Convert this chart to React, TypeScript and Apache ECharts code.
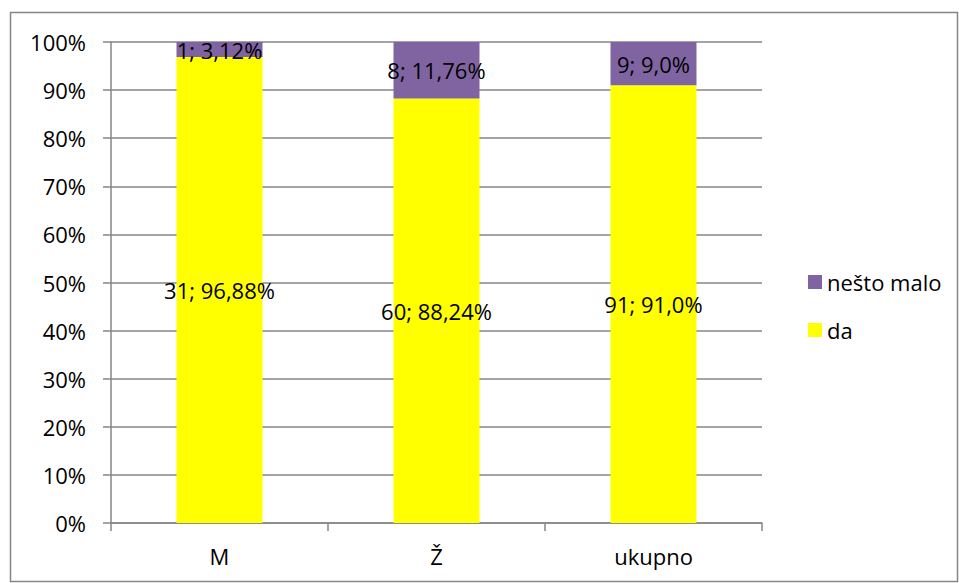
import React, { useEffect, useRef } from "react";
import * as echarts from "echarts";

const categories = ["M", "Ž", "ukupno"];
const daCounts = [31, 60, 91];
const daPercents = [96.88, 88.24, 91.0];
const daPercentLabels = ["96,88%", "88,24%", "91,0%"];
const maloCounts = [1, 8, 9];
const maloPercents = [3.12, 11.76, 9.0];
const maloPercentLabels = ["3,12%", "11,76%", "9,0%"];
const yTicks = [0, 10, 20, 30, 40, 50, 60, 70, 80, 90, 100];

const FONT = "Open Sans";
const FS = 22;

export default function App() {
  const ref = useRef<HTMLDivElement>(null);
  useEffect(() => {
    document.body.style.margin = "0";
    const chart = echarts.init(ref.current!, null, { renderer: "svg" });
    const labelStyle = {
      show: true,
      position: "inside",
      color: "#000",
      fontFamily: FONT,
      fontSize: FS,
    };
    chart.setOption({
      animation: false,
      backgroundColor: "#fff",
      textStyle: { fontFamily: FONT },
      graphic: [
        {
          type: "rect",
          shape: { x: 10.5, y: 12.5, width: 947, height: 569 },
          style: { fill: "none", stroke: "#868686", lineWidth: 1.5 },
          silent: true,
        },
      ],
      grid: { left: 111, top: 42, width: 651, height: 481, containLabel: false },
      legend: {
        orient: "vertical",
        left: 803,
        top: 265,
        itemWidth: 14,
        itemHeight: 14,
        itemGap: 24,
        icon: "rect",
        textStyle: { fontFamily: FONT, fontSize: FS, color: "#000", lineHeight: 24, padding: [0, 0, 0, 0] },
        data: ["nešto malo", "da"],
      },
      xAxis: {
        type: "category",
        data: categories,
        axisLine: { lineStyle: { color: "#868686", width: 1.5 } },
        axisTick: { show: true, length: 8, alignWithLabel: false, lineStyle: { color: "#868686", width: 1.5 } },
        axisLabel: { color: "#000", fontFamily: FONT, fontSize: FS, margin: 22 },
      },
      yAxis: {
        type: "value",
        min: 0,
        max: 100,
        interval: 10,
        axisLine: { show: true, lineStyle: { color: "#868686", width: 1.5 } },
        axisTick: { show: true, length: 8, lineStyle: { color: "#868686", width: 1.5 } },
        splitLine: { show: true, lineStyle: { color: "#868686", width: 1.5 } },
        axisLabel: {
          color: "#000",
          fontFamily: FONT,
          fontSize: FS,
          margin: 25,
          formatter: (v: number) => (yTicks.includes(v) ? v + "%" : ""),
        },
      },
      series: [
        {
          name: "da",
          type: "bar",
          stack: "total",
          barWidth: 86,
          itemStyle: { color: "#FFFF00" },
          label: {
            ...labelStyle,
            formatter: (p: any) => daCounts[p.dataIndex] + "; " + daPercentLabels[p.dataIndex],
          },
          data: daPercents,
        },
        {
          name: "nešto malo",
          type: "bar",
          stack: "total",
          barWidth: 86,
          itemStyle: { color: "#8064A2" },
          label: {
            ...labelStyle,
            formatter: (p: any) => maloCounts[p.dataIndex] + "; " + maloPercentLabels[p.dataIndex],
          },
          data: maloPercents,
        },
      ],
    });
    return () => chart.dispose();
  }, []);
  return <div ref={ref} style={{ width: 959, height: 583, position: "absolute", left: 0, top: 0 }} />;
}
